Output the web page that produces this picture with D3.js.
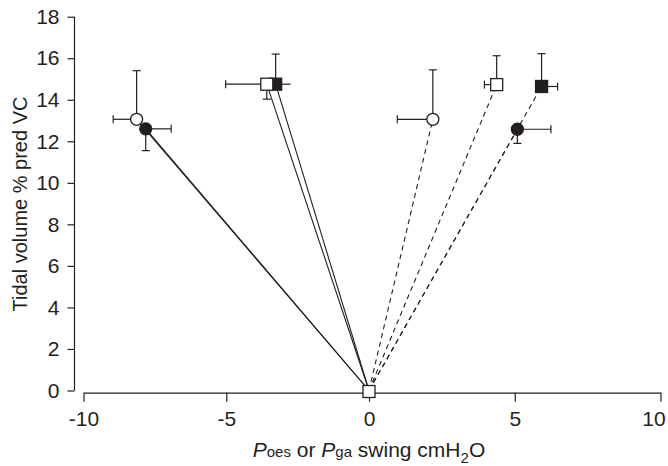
<!DOCTYPE html>
<html>
<head>
<meta charset="utf-8">
<script src="https://cdn.jsdelivr.net/npm/d3@7"></script>
<style>
  body { margin: 0; background: #fff; }
  svg { display: block; font-family: "Liberation Sans", Arial, sans-serif; }
  .axis path, .axis line { stroke: #231f20; stroke-width: 1.2; }
  .axis text { fill: #231f20; font-size: 21px; font-family: "Liberation Sans", Arial, sans-serif; }
</style>
</head>
<body>
<div id="chart"></div>
<script>
var width = 668,
    height = 466;

// points, in drawing order (overlapping markers drawn last end up on top)
var ptX      = [-3.27, -3.58, -8.14, -7.82, 2.19, 5.09, 4.38, 5.92];
var ptY      = [14.75, 14.75, 13.06, 12.60, 13.06, 12.58, 14.73, 14.64];
var ptShape  = ["square", "square", "circle", "circle", "circle", "circle", "square", "square"];
var ptFilled = [true, false, false, true, false, true, false, true];
var ptSide   = ["oes", "oes", "oes", "oes", "ga", "ga", "ga", "ga"];
// one-sided error bars: end value of the horizontal and the vertical bar
var errX     = [-2.75, -5.02, -8.96, -6.93, 0.97, 6.24, 3.96, 6.47];
var errY     = [16.20, 14.03, 15.40, 11.55, 15.44, 11.90, 16.12, 16.22];
var errXCap  = [false, true, true, true, true, true, true, true];

var xTicks = [-10, -5, 0, 5, 10];
var yTicks = [0, 2, 4, 6, 8, 10, 12, 14, 16, 18];

var svg = d3.select("#chart")
    .append("svg")
    .attr("width", width)
    .attr("height", height);

// scanned figure is slightly uneven on both sides of zero
var x = d3.scaleLinear()
    .domain([-10, 0, 10])
    .range([83.5, 369, 660.5]);

var y = d3.scaleLinear()
    .domain([0, 18])
    .range([390.5, 16.7]);

svg.append("g")
    .attr("class", "axis")
    .attr("transform", "translate(74.5,0)")
    .call(d3.axisLeft(y).tickValues(yTicks).tickSize(7).tickSizeOuter(0).tickPadding(8))
    .call(function (g) { g.select(".domain").attr("d", "M0," + y(18) + "V" + y(0)); });

svg.append("g")
    .attr("class", "axis")
    .attr("transform", "translate(0,392.7)")
    .call(d3.axisBottom(x).tickValues(xTicks).tickSize(9).tickSizeOuter(0).tickPadding(9)
        .tickFormat(function (d) { return String(d); }))
    .call(function (g) {
        // last label sits a little left of its tick so it stays on the page
        g.selectAll(".tick text").filter(function (d) { return d == 10; }).attr("dx", -7);
    });

svg.selectAll(".axis .domain").attr("fill", "none");

// lines from origin
svg.selectAll(".ray")
    .data(d3.range(ptX.length))
    .enter()
    .append("line")
    .attr("x1", x(0))
    .attr("y1", y(0))
    .attr("x2", function (i) { return x(ptX[i]); })
    .attr("y2", function (i) { return y(ptY[i]); })
    .attr("stroke", "#231f20")
    .attr("stroke-width", 1.1)
    .attr("stroke-dasharray", function (i) { return ptSide[i] == "ga" ? "5,4" : null; });

var cap = 4;
var eb = svg.append("g")
    .attr("stroke", "#231f20")
    .attr("stroke-width", 1.2)
    .attr("fill", "none");

d3.range(ptX.length).forEach(function (i) {
    var cx = x(ptX[i]), cy = y(ptY[i]);
    var ex = x(errX[i]), ey = y(errY[i]);
    eb.append("line").attr("x1", cx).attr("y1", cy).attr("x2", ex).attr("y2", cy);
    if (errXCap[i]) {
        eb.append("line").attr("x1", ex).attr("y1", cy - cap).attr("x2", ex).attr("y2", cy + cap);
    }
    eb.append("line").attr("x1", cx).attr("y1", cy).attr("x2", cx).attr("y2", ey);
    eb.append("line").attr("x1", cx - cap).attr("y1", ey).attr("x2", cx + cap).attr("y2", ey);
});

// markers
d3.range(ptX.length).forEach(function (i) {
    var cx = x(ptX[i]), cy = y(ptY[i]);
    var fill = ptFilled[i] ? "#231f20" : "#fff";
    if (ptShape[i] == "circle") {
        svg.append("circle")
            .attr("cx", cx).attr("cy", cy).attr("r", 6)
            .attr("fill", fill).attr("stroke", "#231f20").attr("stroke-width", 1.3);
    } else {
        svg.append("rect")
            .attr("x", cx - 6).attr("y", cy - 6).attr("width", 12).attr("height", 12)
            .attr("fill", fill).attr("stroke", "#231f20").attr("stroke-width", 1.3);
    }
});

// origin marker
svg.append("rect")
    .attr("x", x(0) - 6).attr("y", y(0) - 5).attr("width", 12).attr("height", 12)
    .attr("fill", "#fff").attr("stroke", "#231f20").attr("stroke-width", 1.3);

// axis titles
svg.append("text")
    .attr("transform", "translate(27,204) rotate(-90)")
    .attr("text-anchor", "middle")
    .attr("fill", "#231f20")
    .style("font-size", "20px")
    .text("Tidal volume % pred VC");

var xl = svg.append("text")
    .attr("x", x(0))
    .attr("y", 457)
    .attr("text-anchor", "middle")
    .attr("fill", "#231f20")
    .style("font-size", "21px");
xl.append("tspan").style("font-style", "italic").text("P");
xl.append("tspan").style("font-size", "15px").text("oes");
xl.append("tspan").text(" or ");
xl.append("tspan").style("font-style", "italic").text("P");
xl.append("tspan").style("font-size", "15px").text("ga");
xl.append("tspan").text(" swing cmH");
xl.append("tspan").style("font-size", "15px").attr("dy", 6).text("2");
xl.append("tspan").attr("dy", -6).text("O");
</script>
</body>
</html>
